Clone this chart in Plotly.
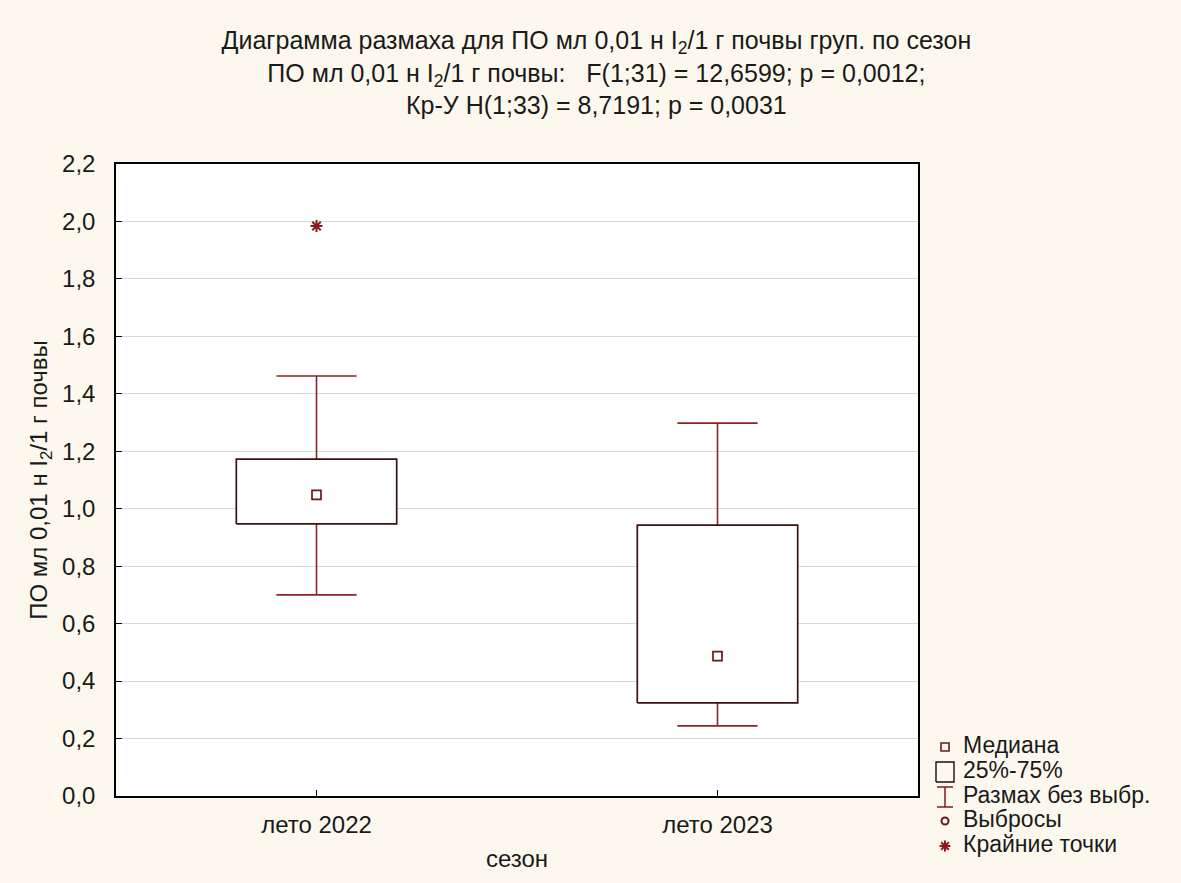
import plotly.graph_objects as go

# ---- data ----
categories = ["лето 2022", "лето 2023"]
q1 = [0.947, 0.324]
median = [1.048, 0.487]
q3 = [1.173, 0.943]
whisker_low = [0.700, 0.244]
whisker_high = [1.462, 1.298]
extreme_x = ["лето 2022"]
extreme_y = [1.984]
y_ticks = [0.0, 0.2, 0.4, 0.6, 0.8, 1.0, 1.2, 1.4, 1.6, 1.8, 2.0, 2.2]
legend_labels = ["Медиана", "25%-75%", "Размах без выбр.", "Выбросы", "Крайние точки"]

# ---- style ----
W, H = 1181, 883
BG = "#fdf8ee"
BOX_C = "#3a1212"
WH_C = "#8b2525"
MED_C = "#6a1a1a"
EXT_C = "#8b1a1a"
FONT = "Liberation Sans, Arial"
TXT = "#1a1a1a"
FS = 24
LEG_FS = 23
BOX_HALF = 0.2
CAP_HALF = 0.1

fig = go.Figure()
idx = {c: i for i, c in enumerate(categories)}

for i, c in enumerate(categories):
    fig.add_trace(go.Scatter(
        x=[i, i, None, i, i, None, i - CAP_HALF, i + CAP_HALF, None, i - CAP_HALF, i + CAP_HALF],
        y=[q3[i], whisker_high[i], None, q1[i], whisker_low[i], None,
           whisker_high[i], whisker_high[i], None, whisker_low[i], whisker_low[i]],
        mode="lines", line=dict(color=WH_C, width=1.6), showlegend=False, hoverinfo="skip"))
    fig.add_trace(go.Scatter(
        x=[i - BOX_HALF, i + BOX_HALF, i + BOX_HALF, i - BOX_HALF, i - BOX_HALF],
        y=[q1[i], q1[i], q3[i], q3[i], q1[i]],
        mode="lines", line=dict(color=BOX_C, width=1.7), fill="toself",
        fillcolor="white", showlegend=False, hoverinfo="skip"))

fig.add_trace(go.Scatter(
    x=list(range(len(categories))), y=median, mode="markers",
    marker=dict(symbol="square-open", size=9, color=MED_C, line=dict(width=1.7)),
    showlegend=False))
fig.add_trace(go.Scatter(
    x=[idx[c] for c in extreme_x], y=extreme_y, mode="markers",
    marker=dict(symbol="asterisk-open", size=10, color=EXT_C, line=dict(width=2, color=EXT_C)),
    showlegend=False))

# ---- custom legend on an overlay pixel-axis ----
LX = 945
leg_y = [747, 772, 797, 821, 846]
fig.add_trace(go.Scatter(x=[LX], y=[leg_y[0]], xaxis="x2", yaxis="y2", mode="markers",
                         marker=dict(symbol="square-open", size=8, color=MED_C, line=dict(width=1.6)),
                         showlegend=False, hoverinfo="skip"))
fig.add_trace(go.Scatter(x=[LX - 9, LX + 9, LX + 9, LX - 9, LX - 9],
                         y=[leg_y[1] + 10, leg_y[1] + 10, leg_y[1] - 10, leg_y[1] - 10, leg_y[1] + 10],
                         xaxis="x2", yaxis="y2", mode="lines", line=dict(color="#111111", width=1.4),
                         showlegend=False, hoverinfo="skip"))
fig.add_trace(go.Scatter(x=[LX, LX, None, LX - 8, LX + 8, None, LX - 8, LX + 8],
                         y=[leg_y[2] - 10, leg_y[2] + 10, None, leg_y[2] - 10, leg_y[2] - 10, None,
                            leg_y[2] + 10, leg_y[2] + 10],
                         xaxis="x2", yaxis="y2", mode="lines", line=dict(color=WH_C, width=1.6),
                         showlegend=False, hoverinfo="skip"))
fig.add_trace(go.Scatter(x=[LX], y=[leg_y[3]], xaxis="x2", yaxis="y2", mode="markers",
                         marker=dict(symbol="circle-open", size=7, color=MED_C, line=dict(width=2)),
                         showlegend=False, hoverinfo="skip"))
fig.add_trace(go.Scatter(x=[LX], y=[leg_y[4]], xaxis="x2", yaxis="y2", mode="markers",
                         marker=dict(symbol="asterisk-open", size=9, color=EXT_C, line=dict(width=2, color=EXT_C)),
                         showlegend=False, hoverinfo="skip"))
fig.add_trace(go.Scatter(x=[LX + 18] * 5, y=leg_y, xaxis="x2", yaxis="y2", mode="text",
                         text=legend_labels, textposition="middle right",
                         textfont=dict(family=FONT, size=LEG_FS, color=TXT),
                         showlegend=False, hoverinfo="skip"))

title_text = ("Диаграмма размаха для ПО мл 0,01 н I<sub>2</sub>/1 г почвы груп. по сезон<br>"
              "ПО мл 0,01 н I<sub>2</sub>/1 г почвы:   F(1;31) = 12,6599; p = 0,0012;<br>"
              "Кр-У H(1;33) = 8,7191; p = 0,0031")

fig.update_layout(
    width=W, height=H, autosize=False,
    margin=dict(l=0, r=0, t=0, b=0, pad=0),
    paper_bgcolor=BG, plot_bgcolor=BG,
    separators=", ",
    font=dict(family=FONT, size=FS, color=TXT),
    title=dict(text=title_text, x=0.505, xanchor="center", xref="paper", yref="container",
               y=1 - 49 / H, yanchor="top", automargin=False,
               font=dict(family=FONT, size=25, color=TXT)),
    shapes=[dict(type="rect", xref="x domain", yref="y domain", x0=0, x1=1, y0=0, y1=1,
                 fillcolor="white", line=dict(width=0), layer="below")],
    xaxis=dict(domain=[116 / W, 918 / W], range=[-0.5, 1.5], automargin=False,
               tickmode="array", tickvals=list(range(len(categories))), ticktext=categories,
               ticks="inside", ticklen=6, tickcolor="black", ticklabelstandoff=6,
               showgrid=False, zeroline=False, showline=True, linecolor="black", linewidth=1.5,
               mirror=True, title=dict(text="сезон", standoff=14, font=dict(size=FS)),
               tickfont=dict(size=FS)),
    yaxis=dict(domain=[1 - 796 / H, 1 - 164 / H], range=[0, 2.2], automargin=False,
               tickmode="array", tickvals=y_ticks, tickformat=".1f",
               ticks="inside", ticklen=6, tickcolor="black", ticklabelstandoff=14,
               showgrid=True, gridcolor="#d8d8d8", gridwidth=1.2, zeroline=False,
               showline=True, linecolor="black", linewidth=1.5, mirror=True,
               title=dict(text="ПО мл 0,01 н I<sub>2</sub>/1 г почвы", standoff=8, font=dict(size=FS)),
               tickfont=dict(size=FS)),
    xaxis2=dict(domain=[925 / W, 1], range=[925, W], visible=False, fixedrange=True, automargin=False),
    yaxis2=dict(domain=[0, 1], range=[H, 0], visible=False, fixedrange=True, anchor="x2", automargin=False),
)

fig.write_html("out.html",
               config={"displayModeBar": False, "responsive": False},
               post_script="document.body.style.margin='0';document.body.style.overflow='hidden';")
